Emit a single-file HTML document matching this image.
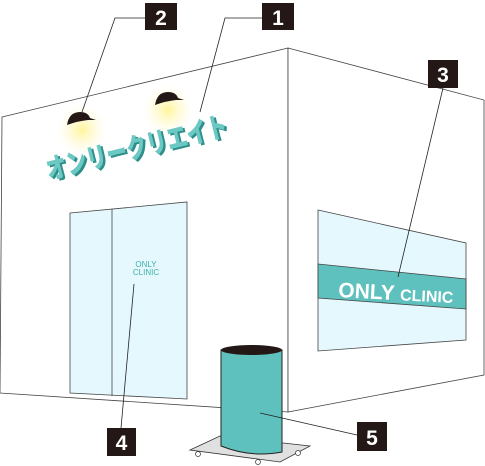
<!DOCTYPE html>
<html><head><meta charset="utf-8"><style>
html,body{margin:0;padding:0;background:#fff;width:485px;height:466px;overflow:hidden}
svg{display:block}
</style></head><body>
<svg width="485" height="466" viewBox="0 0 485 466">
<defs>
<radialGradient id="glow"><stop offset="0" stop-color="#fff59a"/><stop offset="1" stop-color="#fffbe0" stop-opacity="0"/></radialGradient>
</defs>
<g stroke="#222" stroke-width="1" fill="#fff">
<polygon points="2,117 288,48 288,412 0,393" stroke="#444" stroke-width="0.8"/>
<polygon points="288,48 484,100 484,375 288,412" stroke="#444" stroke-width="0.8"/>
</g>
<g>
<polygon points="70,213 187,202 187,399 70,393" fill="#e4f8fd" stroke="#444" stroke-width="0.8"/>
<line x1="112" y1="209" x2="112" y2="396" stroke="#444" stroke-width="0.8"/>
<text x="146" y="267" font-family="Liberation Sans,sans-serif" font-size="8" fill="#3fb0aa" text-anchor="middle">ONLY</text>
<text x="146" y="275" font-family="Liberation Sans,sans-serif" font-size="8" fill="#3fb0aa" text-anchor="middle">CLINIC</text>
</g>
<g>
<polygon points="318,210 466,243 466,340 318,351" fill="#e4f8fd" stroke="#444" stroke-width="0.8"/>
<polygon points="318,264 466,279 466,309 318,298" fill="#5fc1bd" stroke="#444" stroke-width="0.8"/>
<text x="396" y="300" font-family="Liberation Sans,sans-serif" font-weight="bold" font-size="21" fill="#fff" text-anchor="middle" transform="rotate(3 396 292)">ONLY <tspan font-size="16">CLINIC</tspan></text>
</g>
<g>
<circle cx="82" cy="130" r="26" fill="url(#glow)"/>
<circle cx="168" cy="110" r="26" fill="url(#glow)"/>
<path d="M67,125 Q69,112 80,112 Q88,112 90,118 L96,120 L88,120 Q78,121 67,125Z" fill="#231815"/>
<path d="M155,105 Q157,92 168,92 Q176,92 178,98 L184,100 L176,100 Q166,101 155,105Z" fill="#231815"/>
</g>
<g transform="rotate(-14 135 145)">
<text x="45" y="160" textLength="186" lengthAdjust="spacingAndGlyphs" font-family="Liberation Sans,Noto Sans CJK JP,sans-serif" font-weight="900" font-size="28" fill="#2f8e8a">オンリークリエイト</text>
<text x="43" y="158" textLength="186" lengthAdjust="spacingAndGlyphs" font-family="Liberation Sans,Noto Sans CJK JP,sans-serif" font-weight="900" font-size="28" fill="#6cc8c3">オンリークリエイト</text>
</g>
<g>
<polygon points="190,450 220,436 310,446 280,462" fill="#e0e0e0" stroke="#333" stroke-width="0.8"/>
<circle cx="198" cy="454" r="2.5" fill="#fff" stroke="#333" stroke-width="0.7"/>
<circle cx="258" cy="462" r="2.5" fill="#fff" stroke="#333" stroke-width="0.7"/>
<circle cx="298" cy="453" r="2.5" fill="#fff" stroke="#333" stroke-width="0.7"/>
<path d="M221,350 L221,446 Q251,458 282,452 L282,350Z" fill="#5fc1bd" stroke="#222" stroke-width="1"/>
<ellipse cx="251.5" cy="350" rx="30.5" ry="5" fill="#231815"/>
</g>
<g stroke="#222" stroke-width="0.8" fill="none">
<polyline points="145,18 115,18 82,112"/>
<polyline points="262,18 225,18 200,112"/>
<line x1="443" y1="88" x2="398" y2="277"/>
<line x1="121" y1="428" x2="134" y2="284"/>
<line x1="357" y1="435" x2="260" y2="413"/>
</g>
<g font-family="Liberation Sans,sans-serif" font-weight="bold" font-size="21" fill="#fff" text-anchor="middle">
<rect x="262" y="3" width="32" height="27" fill="#231815"/><text x="278" y="25">1</text>
<rect x="145" y="3" width="32" height="27" fill="#231815"/><text x="161" y="25">2</text>
<rect x="428" y="60" width="30" height="28" fill="#231815"/><text x="443" y="82">3</text>
<rect x="107" y="428" width="29" height="28" fill="#231815"/><text x="121.5" y="450">4</text>
<rect x="357" y="422" width="30" height="29" fill="#231815"/><text x="372" y="445">5</text>
</g>
</svg>
</body></html>
